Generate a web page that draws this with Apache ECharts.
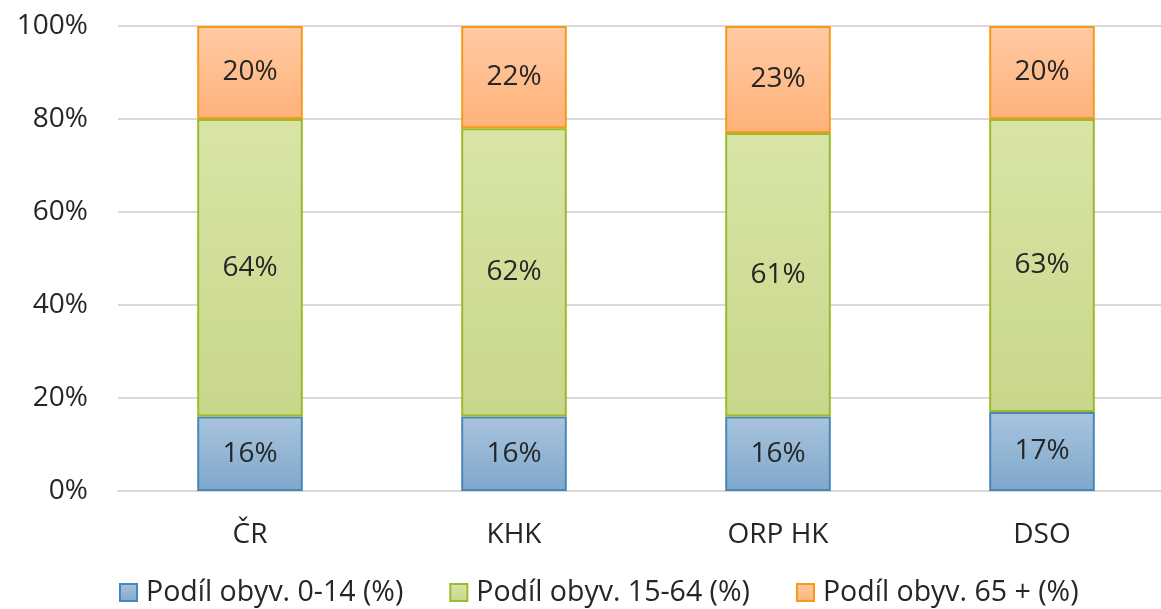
<!DOCTYPE html>
<html>
<head>
<meta charset="utf-8">
<script src="https://cdn.jsdelivr.net/npm/echarts@6/dist/echarts.min.js"></script>
<style>
  html, body { margin: 0; padding: 0; background: #fff; overflow: hidden; }
  /* plot runs a little past the right edge of the window, like the original */
  #main { width: 1174px; height: 609px; }
</style>
</head>
<body>
<div id="main"></div>
<script>
// categories and shares (percent)
const categories = ['ČR', 'KHK', 'ORP HK', 'DSO'];
const seriesNames = ['Podíl obyv. 0-14 (%)', 'Podíl obyv. 15-64 (%)', 'Podíl obyv. 65 + (%)'];
const young = [16, 16, 16, 17];
const working = [64, 62, 61, 63];
const old = [20, 22, 23, 20];

const font = 'Open Sans';

const grad = (top, bottom) => ({
  type: 'linear', x: 0, y: 0, x2: 0, y2: 1,
  colorStops: [{ offset: 0, color: top }, { offset: 1, color: bottom }],
});

// fill gradients + borders for each series
const styles = [
  { fill: grad('#a9c4de', '#7ea7cb'), border: '#4a87b8' },
  { fill: grad('#d8e5a7', '#c8d78a'), border: '#9bbb2a' },
  { fill: grad('#ffcaa3', '#ffb27a'), border: '#f59a1c' },
];

const dataSets = [young, working, old];

const series = dataSets.map((values, i) => ({
  name: seriesNames[i],
  type: 'bar',
  stack: 'total',
  barWidth: '40%',
  data: values,
  itemStyle: {
    color: styles[i].fill,
    borderColor: styles[i].border,
    borderWidth: 2,
  },
  label: {
    show: true,
    position: 'inside',
    formatter: (p) => p.value + '%',
    color: '#262626',
    fontFamily: font,
    fontSize: 28,
  },
  emphasis: { disabled: true },
}));

const myChart = echarts.init(document.getElementById('main'));

const option = {
  animation: false,
  legend: {
    bottom: -3,
    left: 114,
    itemWidth: 17,
    itemHeight: 17,
    itemGap: 46,
    icon: 'rect',
    data: seriesNames.map((name, i) => ({
      name,
      itemStyle: { color: styles[i].fill, borderColor: styles[i].border, borderWidth: 2 },
    })),
    textStyle: { color: '#262626', fontFamily: font, fontSize: 28.5, padding: [0, 0, 0, 4] },
  },
  grid: {
    left: 118,
    top: 26,
    right: 0,
    height: 465,
    containLabel: false,
  },
  xAxis: {
    type: 'category',
    data: categories,
    axisLine: { lineStyle: { color: '#d9d9d9', width: 2 } },
    axisTick: { show: false },
    axisLabel: { color: '#262626', fontFamily: font, fontSize: 28, margin: 30 },
  },
  yAxis: {
    type: 'value',
    min: 0,
    max: 100,
    interval: 20,
    axisLine: { show: false },
    axisTick: { show: false },
    splitLine: { lineStyle: { color: '#d9d9d9', width: 2 } },
    axisLabel: {
      color: '#262626',
      fontFamily: font,
      fontSize: 28,
      margin: 30,
      formatter: (v) => v + '%',
    },
  },
  series,
};

myChart.setOption(option);
</script>
</body>
</html>
